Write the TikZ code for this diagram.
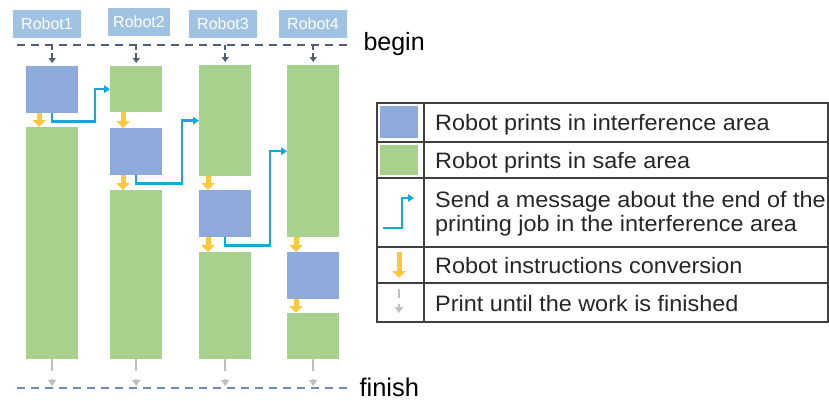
\documentclass[tikz,border=0pt]{standalone}
\usepackage{fontspec}
\setmainfont{Liberation Sans}
\newfontfamily\legfont[FakeStretch=1.05]{Liberation Sans}
\usetikzlibrary{arrows.meta}
\definecolor{intfblue}{RGB}{142,170,219}
\definecolor{safegreen}{RGB}{169,209,142}
\definecolor{convyellow}{RGB}{255,200,60}
\definecolor{msgblue}{RGB}{20,168,222}
\definecolor{labelblue}{RGB}{160,195,228}
\definecolor{startgray}{RGB}{80,95,120}
\definecolor{finishblue}{RGB}{110,140,185}
\definecolor{endgray}{RGB}{190,190,195}
\begin{document}
\begin{tikzpicture}[x=1pt,y=-1pt,
  intf/.style={fill=intfblue,minimum width=52pt,inner sep=0pt,anchor=north west},
  safe/.style={fill=safegreen,minimum width=52pt,inner sep=0pt,anchor=north west},
  lbl/.style={fill=labelblue,text=white,minimum width=68pt,minimum height=28pt,inner sep=0pt,font=\fontsize{16}{18}\selectfont},
  conv/.style={convyellow,line width=5pt,-{Triangle[width=13pt,length=7pt]}},
  msg/.style={msgblue,line width=2.5pt,-{Triangle[width=7.5pt,length=6pt]}},
  startarr/.style={startgray,line width=1.5pt,dash pattern=on 5pt off 3pt,-{Triangle[width=7pt,length=5pt]},shorten >=3pt},
  endarr/.style={endgray,line width=2.5pt,dash pattern=on 12pt off 8pt,-{Triangle[width=8pt,length=6pt]},shorten >=2pt},
  tabline/.style={draw=black!75,line width=1.5pt},
  legtext/.style={anchor=base west,inner sep=0pt,text=black!85,font=\legfont\fontsize{22.3}{24}\selectfont,align=left}]
\useasboundingbox (0,0) rectangle (829,400);

\node[lbl] (r1) at (47,24) {Robot1};
\node[lbl,minimum width=62pt] (r2) at (139,22) {Robot2};
\node[lbl] (r3) at (223,24) {Robot3};
\node[lbl] (r4) at (313,24) {Robot4};

\coordinate (bl) at (17,45);
\coordinate (br) at (350,45);
\coordinate (fl) at (17,388);
\coordinate (fr) at (350,388);
\draw[startgray,line width=2pt,dash pattern=on 8pt off 6pt] (bl) -- (br);
\draw[finishblue,line width=2pt,dash pattern=on 8pt off 6pt] (fl) -- (fr);
\node[anchor=base west,font=\fontsize{25}{27}\selectfont] (begin) at (360,50) {begin};
\node[anchor=base west,font=\fontsize{25.5}{27}\selectfont] (finish) at (356,396) {finish};

\node[intf,minimum height=47pt] (i1) at (26,66) {};
\node[safe,minimum height=232pt] (s1b) at (26,127) {};
\node[safe,minimum height=46pt] (s2a) at (110,66) {};
\node[intf,minimum height=47pt] (i2) at (110,128) {};
\node[safe,minimum height=169pt] (s2b) at (110,190) {};
\node[safe,minimum height=111pt] (s3a) at (199,65) {};
\node[intf,minimum height=47pt] (i3) at (199,190) {};
\node[safe,minimum height=107pt] (s3b) at (199,252) {};
\node[safe,minimum height=172pt] (s4a) at (287,65) {};
\node[intf,minimum height=47pt] (i4) at (287,252) {};
\node[safe,minimum height=46pt] (s4b) at (287,313) {};

\foreach \n in {i1,s2a,s3a,s4a}
  \draw[startarr] (\n.north |- bl) -- (\n.north);
\foreach \n in {s1b,s2b,s3b,s4b}
  \draw[endarr] (\n.south) -- (\n.south |- fl);

\draw[conv] ([xshift=13pt]i1.south west) -- ([xshift=13pt]s1b.north west);
\draw[conv] ([xshift=13pt]s2a.south west) -- ([xshift=13pt]i2.north west);
\draw[conv] ([xshift=13pt]i2.south west) -- ([xshift=13pt]s2b.north west);
\draw[conv] ([xshift=9pt]s3a.south west) -- ([xshift=9pt]i3.north west);
\draw[conv] ([xshift=9pt]i3.south west) -- ([xshift=9pt]s3b.north west);
\draw[conv] ([xshift=9pt]s4a.south west) -- ([xshift=9pt]i4.north west);
\draw[conv] ([xshift=9pt]i4.south west) -- ([xshift=9pt]s4b.north west);

\draw[msg] (i1.south) -- ++(0,8) -| ([xshift=-15pt]s2a.west) -- (s2a.west);
\draw[msg] (i2.south) -- ++(0,8) -| ([xshift=-17pt]s3a.west) -- (s3a.west);
\draw[msg] (i3.south) -- ++(0,8) -| ([xshift=-17pt]s4a.west) -- (s4a.west);

\draw[tabline] (377,103) rectangle (828,322);
\draw[tabline] (424,103) -- (424,322);
\foreach \y in {142,178,247,283}
  \draw[tabline] (377,\y) -- (828,\y);

\node[fill=intfblue,minimum width=38pt,minimum height=32pt,inner sep=0pt] (kintf) at (399,122) {};
\node[fill=safegreen,minimum width=38pt,minimum height=30pt,inner sep=0pt] (ksafe) at (399,160) {};
\draw[msg] (383,228) -- (402,228) -- (402,198) -- (414,198);
\draw[conv] (399,252) -- (399,278);
\draw[endarr,line width=2pt,dash pattern=on 9pt off 6pt] (399,289) -- (399,315);

\node[legtext] (k1) at (435,130) {Robot prints in interference area};
\node[legtext] (k2) at (435,168) {Robot prints in safe area};
\node[legtext] (k3) at (435,231) {Send a message about the end of the\\printing job in the interference area};
\node[legtext] (k4) at (435,273) {Robot instructions conversion};
\node[legtext] (k5) at (435,311) {Print until the work is finished};
\end{tikzpicture}
\end{document}
